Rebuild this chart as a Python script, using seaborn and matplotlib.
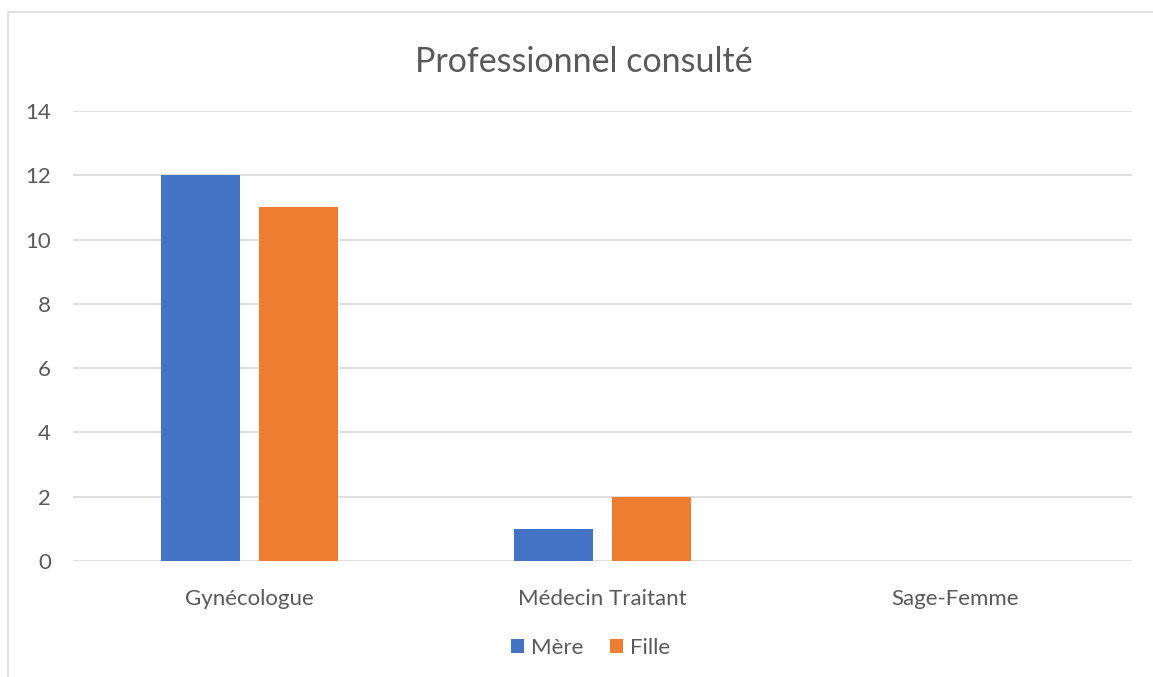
import pandas as pd
import seaborn as sns
import matplotlib.pyplot as plt
from matplotlib.patches import Rectangle

# data
categories = ['Gynécologue', 'Médecin Traitant', 'Sage-Femme']
mere = [12, 1, 0]
fille = [11, 2, 0]
series = ['Mère', 'Fille']
colors = ['#4472C4', '#ED7D31']

df = pd.DataFrame({
    'Professionnel': categories * 2,
    'Valeur': mere + fille,
    'Série': [series[0]] * 3 + [series[1]] * 3,
})

sns.set_theme(style='white')
plt.rcParams['font.family'] = ['Lato', 'DejaVu Sans']
text_col = '#595959'

fig = plt.figure(figsize=(11.53, 6.77), dpi=100)
ax = fig.add_axes([0.0633, 0.1713, 0.9185, 0.6647])

sns.barplot(data=df, x='Professionnel', y='Valeur', hue='Série',
            palette=colors, width=0.56, gap=0.2, ax=ax, legend=True,
            saturation=1, linewidth=0, zorder=3)

ax.set_ylim(0, 14)
ax.set_yticks(range(0, 15, 2))
ax.set_xlim(-0.5, 2.5)
ax.grid(axis='y', color='#D9D9D9', linewidth=1.2, zorder=0)
for s in ax.spines.values():
    s.set_visible(False)
ax.tick_params(axis='both', length=0, labelsize=16, colors=text_col)
ax.tick_params(axis='x', pad=20)
ax.tick_params(axis='y', pad=16)
ax.set_xlabel('')
ax.set_ylabel('')

fig.text(0.506, 0.908, 'Professionnel consulté', ha='center', va='center',
         fontsize=24.5, color=text_col)

leg = ax.legend(loc='center', bbox_to_anchor=(0.512, 0.043),
                bbox_transform=fig.transFigure, ncol=2, frameon=False,
                fontsize=16, handlelength=0.6, handleheight=0.6,
                handletextpad=0.3, columnspacing=1.2)
for t in leg.get_texts():
    t.set_color(text_col)

# chart frame (runs off the right and bottom edges)
fig.add_artist(Rectangle((8 / 1153, -0.1), 1.2, 1.1 - 12 / 677,
                         transform=fig.transFigure, fill=False,
                         edgecolor='#D9D9D9', linewidth=1.2, clip_on=False))

fig.savefig('out.png', dpi=100, facecolor='white')
